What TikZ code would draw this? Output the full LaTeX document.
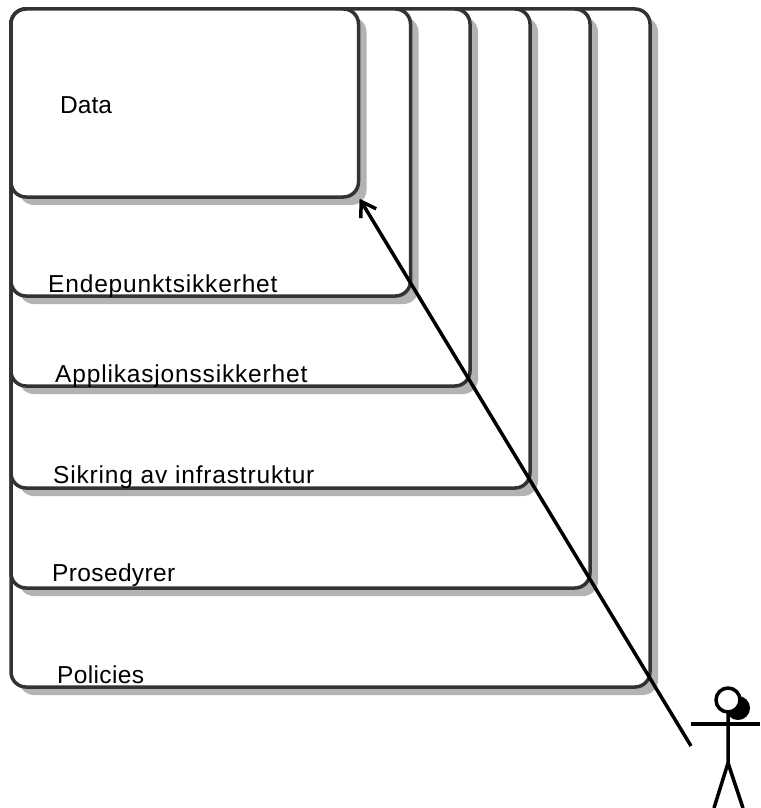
\documentclass[tikz,border=0pt]{standalone}
\usepackage{fontspec}
\setmainfont{Liberation Sans}
\newfontfamily\widefont[LetterSpace=3.4]{Liberation Sans}
\newfontfamily\midfont[LetterSpace=1.5]{Liberation Sans}
\usetikzlibrary{shadows,arrows.meta}
\definecolor{linegray}{HTML}{333333}
\definecolor{shadowgray}{HTML}{B3B3B3}
\tikzset{
	layer/.style={draw=linegray,line width=3.5pt,fill=white,rounded corners=15pt,anchor=north west,inner sep=0pt,outer sep=0pt,
		general shadow={shadow xshift=8pt,shadow yshift=-8pt,fill=shadowgray}},
	lbl/.style={anchor=base west,inner sep=0pt,font=\fontsize{24.5}{28}\selectfont,text=black},
	widelbl/.style={lbl,font=\fontsize{24.5}{28}\widefont},
	midlbl/.style={lbl,font=\fontsize{24.5}{28}\midfont},
	figure/.style={line width=3.5pt,black}
}
\begin{document}
\begin{tikzpicture}[x=1pt,y=-1pt]
		\useasboundingbox (0,0) rectangle (760,808);
		\node[layer,minimum width=639pt,minimum height=678pt] (policies) at (11,9) {};
		\node[layer,minimum width=579pt,minimum height=579pt] (prosedyrer) at (11,9) {};
		\node[layer,minimum width=519pt,minimum height=479pt] (infra) at (11,9) {};
		\node[layer,minimum width=459pt,minimum height=377pt] (app) at (11,9) {};
		\node[layer,minimum width=399.5pt,minimum height=287pt] (endepunkt) at (11,9) {};
		\node[layer,minimum width=347.5pt,minimum height=188pt] (data) at (11,9) {};
		\node[lbl] (datalbl) at (60,113) {Data};
		\node[widelbl] (endepunktlbl) at (48,292) {Endepunktsikkerhet};
		\node[widelbl] (applbl) at (55,382) {Applikasjonssikkerhet};
		\node[widelbl] (infralbl) at (53,483) {Sikring av infrastruktur};
		\node[midlbl] (prosedyrerlbl) at (52,581) {Prosedyrer};
		\node[midlbl] (policieslbl) at (57,683) {Policies};
		% person
		\coordinate (hand) at (691,746);
		\fill[black] (738,708) circle (12);
		\draw[figure,fill=white] (728,700) circle (12);
		\draw[figure] (691,724) -- (760,724);
		\draw[figure] (728,712) -- (728,763) -- (714,808);
		\draw[figure] (728,763) -- (743,808);
		\draw[line width=3.5pt,black,shorten >=2pt,-{Straight Barb[length=14pt,width=18pt]}] (hand) -- (data.south east);
	\end{tikzpicture}
\end{document}
